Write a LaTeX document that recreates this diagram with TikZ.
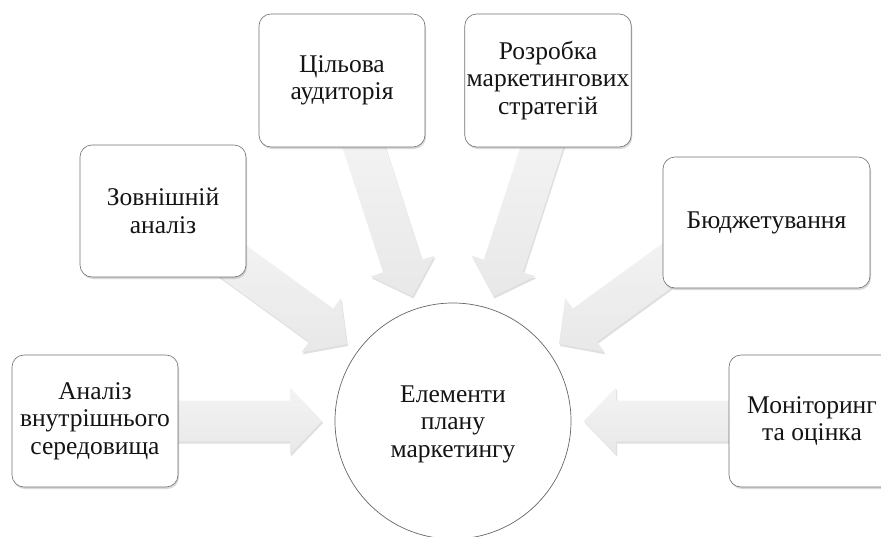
\documentclass[tikz,border=0pt]{standalone}
\usepackage{fontspec}
\setmainfont{Liberation Serif}
\usetikzlibrary{calc,shadows}
\tikzset{
  txt/.style={align=center, font=\fontsize{25.5}{27.5}\selectfont, text=black!92},
  boxnode/.style={txt, rectangle, rounded corners=12pt, draw=black!55, line width=0.65pt, fill=white,
    inner sep=2pt, minimum width=166pt, minimum height=132pt,
    drop shadow={shadow xshift=1pt, shadow yshift=-2pt, opacity=0.3}},
  hubnode/.style={circle, draw=black!60, line width=0.7pt, fill=white, minimum size=236pt,
    inner sep=0pt},
  spokearrow/.style={top color=gray!9, bottom color=gray!18, draw=none,
    drop shadow={shadow xshift=1pt, shadow yshift=-2pt, opacity=0.25}}
}
\newcommand\spoke[1]{%
  \path[spokearrow]
    ($(hub.center)+(#1:131)$)
    -- ($(hub.center)+(#1:163)+(#1+90:33.5)$)
    -- ($(hub.center)+(#1:163)+(#1+90:20.5)$)
    -- ($(hub.center)+(#1:300)+(#1+90:20.5)$)
    -- ($(hub.center)+(#1:300)+(#1-90:20.5)$)
    -- ($(hub.center)+(#1:163)+(#1-90:20.5)$)
    -- ($(hub.center)+(#1:163)+(#1-90:33.5)$) -- cycle;}
\begin{document}
\begin{tikzpicture}[x=1pt, y=-1pt]
  \useasboundingbox (0,0) rectangle (881,536);
  \clip (0,0) rectangle (881,536);
  \fill[white] (0,0) rectangle (881,536);
  \node[hubnode] (hub) at (453,421) {};
  \node[txt] (hubtext) at (453,424) {Елементи\\плану\\маркетингу};
  \spoke{180}
  \spoke{-144}
  \spoke{-108}
  \spoke{-72}
  \spoke{-36}
  \spoke{0}
  \node[boxnode] (b1) at (95,421) {Аналіз\\внутрішнього\\середовища};
  \node[boxnode] (b2) at (163,211) {Зовнішній\\аналіз};
  \node[boxnode, minimum height=133pt] (b3) at (342,80.5) {Цільова\\аудиторія};
  \node[boxnode, minimum height=133pt] (b4) at (548,80.5) {Розробка\\маркетингових\\стратегій};
  \node[boxnode, minimum width=207pt, minimum height=131pt] (b5) at (766.5,222.5) {Бюджетування};
  \node[boxnode] (b6) at (812,421) {Моніторинг\\та оцінка};
\end{tikzpicture}
\end{document}
